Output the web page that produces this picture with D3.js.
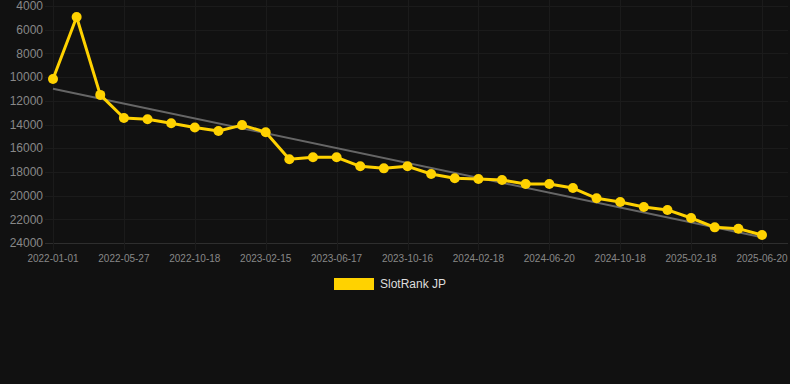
<!DOCTYPE html>
<html>
<head>
<meta charset="utf-8">
<script src="https://cdn.jsdelivr.net/npm/d3@7"></script>
<style>
  html, body { margin: 0; padding: 0; background: #111111; }
  #chart { width: 790px; height: 384px; }
</style>
</head>
<body>
<div id="chart"></div>
<script>
// Category dates (only every 3rd one is labelled on the axis)
const dates = [
    '2022-01-01', '2022-02-18', '2022-04-08', '2022-05-27', '2022-07-15', '2022-09-01',
    '2022-10-18', '2022-11-27', '2023-01-06', '2023-02-15', '2023-03-27', '2023-05-07',
    '2023-06-17', '2023-07-27', '2023-09-06', '2023-10-16', '2023-11-26', '2024-01-07',
    '2024-02-18', '2024-03-30', '2024-05-10', '2024-06-20', '2024-07-30', '2024-09-08',
    '2024-10-18', '2024-11-28', '2025-01-08', '2025-02-18', '2025-03-30', '2025-05-10',
    '2025-06-20'
];

// SlotRank JP rank values
const rankJP = [
    10160, 4930, 11500, 13450, 13550, 13900, 14250, 14550, 14050, 14650,
    16940, 16770, 16770, 17530, 17700, 17530, 18180, 18540, 18600, 18690,
    19020, 19020, 19360, 20230, 20540, 20960, 21210, 21890, 22680, 22790,
    23320
];

// Trend line end values (first and last category)
const trendValues = [10980, 23510];

const yTicks = [4000, 6000, 8000, 10000, 12000, 14000, 16000, 18000, 20000, 22000, 24000];

const seriesName = 'SlotRank JP';

const W = 790, H = 384;
const plotLeft = 53, plotRight = 762, plotTop = 6, plotBottom = 243;
const font = '"Liberation Sans", Arial, sans-serif';
const yellow = '#ffd200';

const svg = d3.select('#chart').append('svg')
    .attr('width', W).attr('height', H)
    .style('display', 'block');

svg.append('rect').attr('width', W).attr('height', H).attr('fill', '#111111');

const x = d3.scalePoint().domain(dates).range([plotLeft, plotRight]);
const y = d3.scaleLinear().domain([4000, 24000]).range([plotTop, plotBottom]);

const labelDates = dates.filter((d, i) => i % 3 === 0);

// Horizontal grid
svg.append('g')
    .selectAll('line')
    .data(yTicks)
    .join('line')
    .attr('x1', 45).attr('x2', 788)
    .attr('y1', d => Math.round(y(d)) + 0.5)
    .attr('y2', d => Math.round(y(d)) + 0.5)
    .attr('stroke', d => d === 24000 ? '#2e2e2e' : '#1b1b1b')
    .attr('stroke-width', 1);

// Vertical grid
svg.append('g')
    .selectAll('line')
    .data(labelDates)
    .join('line')
    .attr('x1', d => Math.round(x(d)) + 0.5)
    .attr('x2', d => Math.round(x(d)) + 0.5)
    .attr('y1', 0).attr('y2', 250)
    .attr('stroke', '#1b1b1b')
    .attr('stroke-width', 1);

// Y axis labels
svg.append('g')
    .selectAll('text')
    .data(yTicks)
    .join('text')
    .attr('x', 43)
    .attr('y', d => y(d))
    .attr('dy', '0.35em')
    .attr('text-anchor', 'end')
    .attr('fill', '#888888')
    .attr('font-family', font)
    .attr('font-size', '12px')
    .text(d => d);

// X axis labels
svg.append('g')
    .selectAll('text')
    .data(labelDates)
    .join('text')
    .attr('x', d => x(d))
    .attr('y', 258)
    .attr('dy', '0.35em')
    .attr('text-anchor', 'middle')
    .attr('fill', '#888888')
    .attr('font-family', font)
    .attr('font-size', '10px')
    .text(d => d);

// Trend line
svg.append('line')
    .attr('x1', x(dates[0])).attr('y1', y(trendValues[0]))
    .attr('x2', x(dates[dates.length - 1])).attr('y2', y(trendValues[1]))
    .attr('stroke', '#666666')
    .attr('stroke-width', 2);

// Series line
const line = d3.line()
    .x((d, i) => x(dates[i]))
    .y(d => y(d));

svg.append('path')
    .datum(rankJP)
    .attr('d', line)
    .attr('fill', 'none')
    .attr('stroke', yellow)
    .attr('stroke-width', 3)
    .attr('stroke-linejoin', 'round');

svg.append('g')
    .selectAll('circle')
    .data(rankJP)
    .join('circle')
    .attr('cx', (d, i) => x(dates[i]))
    .attr('cy', d => y(d))
    .attr('r', 5)
    .attr('fill', yellow);

// Legend
const legend = svg.append('g');
legend.append('rect')
    .attr('x', 334).attr('y', 278)
    .attr('width', 40).attr('height', 12)
    .attr('fill', yellow);
legend.append('text')
    .attr('x', 380).attr('y', 284)
    .attr('dy', '0.35em')
    .attr('fill', '#dddddd')
    .attr('font-family', font)
    .attr('font-size', '12px')
    .text(seriesName);
</script>
</body>
</html>
